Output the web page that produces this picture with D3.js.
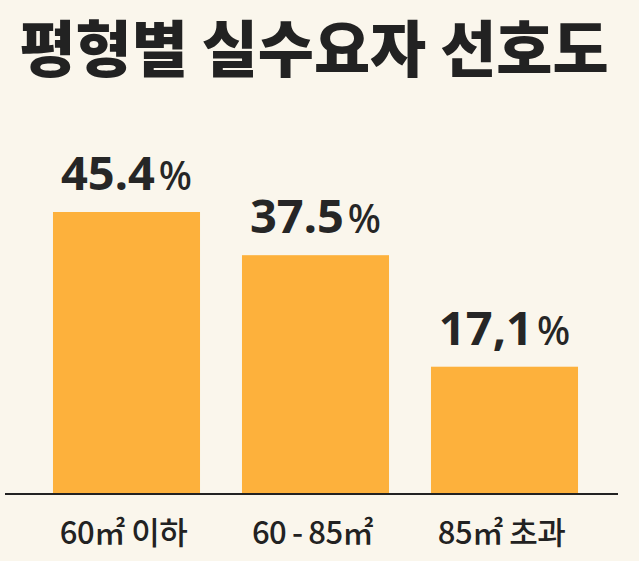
<!DOCTYPE html>
<html><head><meta charset="utf-8">
<script src="https://cdn.jsdelivr.net/npm/d3@7"></script>
<style>
html,body{margin:0;padding:0;background:#faf6ec;}
svg{display:block;}
</style></head>
<body>
<svg id="chart" width="639" height="561"></svg>
<script>
const title = "평형별 실수요자 선호도";
const categories = ["60㎡ 이하", "60\u2009-\u200985㎡", "85㎡ 초과"];
const values = [45.4, 37.5, 17.1];
const valueLabels = ["45.4", "37.5", "17,1"];

const W = 639, H = 561;
const svg = d3.select("#chart");
svg.append("rect").attr("width", W).attr("height", H).attr("fill", "#faf6ec");

const baseline = 493;
const x = d3.scaleBand().domain(categories).range([32, 599]).paddingInner(0.222).paddingOuter(0.111);
const y = d3.scaleLinear().domain([-6, 45.4]).range([baseline, 212]);

svg.append("text")
  .attr("x", 314).attr("y", 72)
  .attr("text-anchor", "middle")
  .attr("font-family", "'Noto Sans CJK KR', sans-serif")
  .attr("font-weight", 900)
  .attr("font-size", 61)
  .attr("fill", "#222")
  .text(title);

const g = svg.append("g");
g.selectAll("rect.bar").data(values).join("rect")
  .attr("class", "bar")
  .attr("x", (d, i) => x(categories[i]))
  .attr("width", x.bandwidth())
  .attr("y", d => y(d))
  .attr("height", d => baseline - y(d))
  .attr("fill", "#fdb13c");

const lbl = g.selectAll("text.val").data(values).join("text")
  .attr("class", "val")
  .attr("x", (d, i) => x(categories[i]) + x.bandwidth() / 2)
  .attr("y", d => y(d) - 22)
  .attr("text-anchor", "middle")
  .attr("font-family", "'Noto Sans', 'Open Sans', sans-serif")
  .attr("fill", "#262626");
lbl.append("tspan").attr("font-weight", 700).attr("font-size", 47).text((d, i) => valueLabels[i]);
lbl.append("tspan").attr("font-weight", 500).attr("font-size", 39).attr("dx", 4).text("%");

svg.append("line")
  .attr("x1", 5).attr("x2", 618)
  .attr("y1", baseline + 1).attr("y2", baseline + 1)
  .attr("stroke", "#222").attr("stroke-width", 2);

svg.selectAll("text.cat").data(categories).join("text")
  .attr("class", "cat")
  .attr("x", d => x(d) + x.bandwidth() / 2 - 3)
  .attr("y", 544)
  .attr("text-anchor", "middle")
  .attr("font-family", "'Noto Sans CJK KR', sans-serif")
  .attr("font-weight", 500)
  .attr("font-size", 31)
  .attr("letter-spacing", -0.5)
  .attr("fill", "#222")
  .text(d => d);
</script>
</body></html>
